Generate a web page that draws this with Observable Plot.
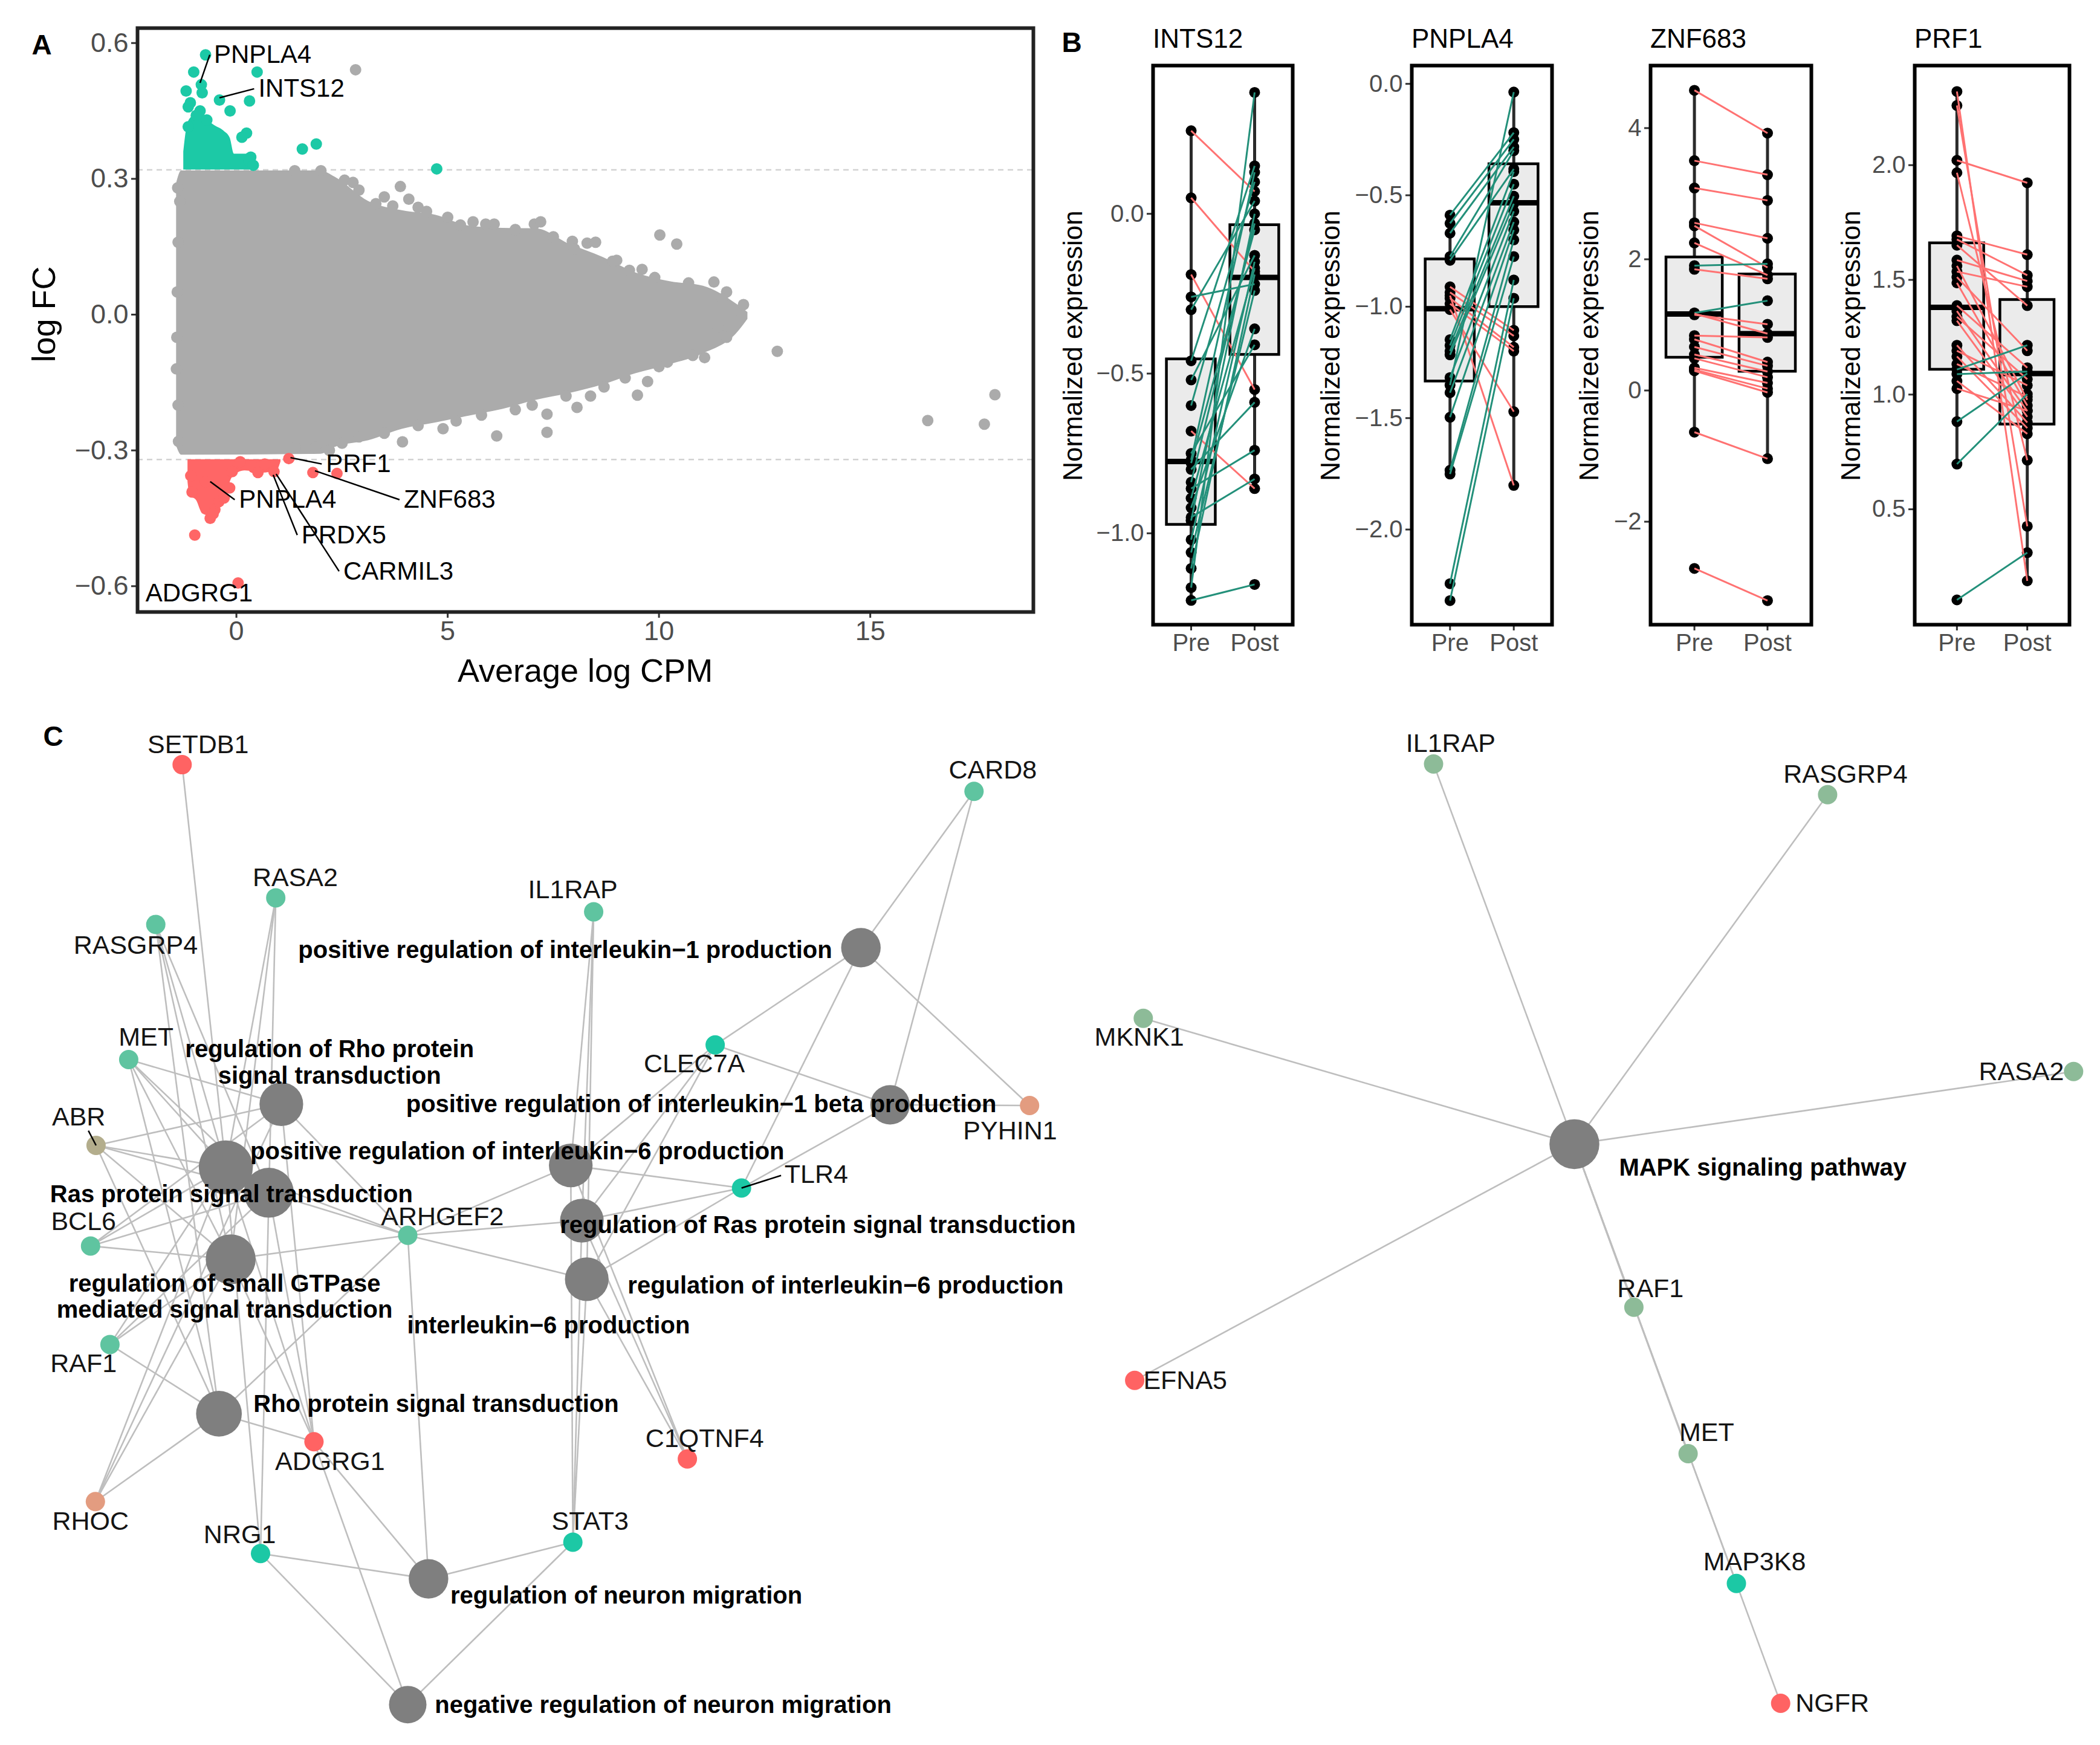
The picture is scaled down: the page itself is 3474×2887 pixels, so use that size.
<!DOCTYPE html>
<html><head><meta charset="utf-8">
<script src="https://cdn.jsdelivr.net/npm/d3@7"></script>
<script src="https://cdn.jsdelivr.net/npm/@observablehq/plot@0.6"></script>
<style>
body{margin:0;background:#fff;}
#fig{position:relative;width:3474px;height:2887px;background:#fff;overflow:hidden;font-family:'Liberation Sans',Arial,Helvetica,sans-serif;}
#fig svg{position:absolute;overflow:visible;}
.t{position:absolute;line-height:1;white-space:nowrap;}
</style></head><body><div id="fig"></div>
<script>
// ---------------- Panel A data (MA plot) ----------------
const fcCut = 0.32;
const cloudX   = [-1.42,-1.3,2.0,2.33,3.13,3.92,4.71,5.5,6.3,7.09,7.88,8.67,9.46,10.26,11.05,11.84,12.1];
const cloudTop = [0.29,0.318,0.318,0.304,0.25,0.23,0.22,0.196,0.191,0.19,0.156,0.127,0.092,0.073,0.063,0.023,0.005];
const cloudBot = [-0.29,-0.31,-0.308,-0.293,-0.278,-0.253,-0.239,-0.224,-0.209,-0.189,-0.174,-0.155,-0.130,-0.110,-0.086,-0.041,-0.01];
const grayX = [2.82,1.38,2.0,2.56,2.76,3.5,3.88,4.08,4.3,5.6,6.1,7.05,7.2,7.95,8.3,8.5,9.0,9.6,10.02,10.42,11.3,11.6,12.0,11.87,11.4,11.08,10.6,10.2,9.73,9.49,8.38,8.06,7.35,7.35,6.16,4.89,3.93,2.5,1.87,1.39,12.8,16.36,17.7,17.95,-1.34,-1.38,-1.41,-1.38,
  2.9,3.3,3.7,4.5,5.0,5.3,5.9,6.6,7.5,8.0,8.9,9.3,9.9,10.7,11.5,2.2,2.9,3.5,4.3,5.2,5.8,6.6,7.0,7.8,8.7,9.2,10.0,10.8,11.6,-1.40,-1.42,-1.39,-1.37];
const grayY = [0.541,0.318,0.318,0.297,0.292,0.26,0.283,0.255,0.237,0.205,0.2,0.2,0.205,0.162,0.158,0.16,0.12,0.10,0.176,0.156,0.072,0.05,0.022,-0.013,-0.028,-0.095,-0.085,-0.105,-0.148,-0.178,-0.18,-0.205,-0.22,-0.26,-0.268,-0.252,-0.281,-0.284,-0.293,-0.293,-0.081,-0.234,-0.242,-0.177,0.25,0.16,-0.05,-0.2,
  0.275,0.245,0.24,0.228,0.215,0.198,0.20,0.188,0.172,0.145,0.118,0.098,0.082,0.07,0.035,-0.30,-0.27,-0.262,-0.245,-0.235,-0.222,-0.21,-0.2,-0.18,-0.16,-0.14,-0.115,-0.09,-0.05,0.05,-0.12,0.28,-0.28];
const upAreaX   = [-1.25,-1.15,-0.96,-0.85,-0.74,-0.55,-0.3,-0.15,-0.05,0.22,0.42];
const upAreaTop = [0.36,0.424,0.445,0.457,0.437,0.42,0.406,0.39,0.355,0.355,0.335];
const upX = [-0.73,-1.01,0.49,-1.19,-0.83,-0.81,-0.40,0.31,-0.15,-1.09,-1.14,-0.86,-1.14,0.24,0.13,1.56,1.89,4.74,0.34,-0.95,-0.7,0.3,0.4];
const upY = [0.574,0.536,0.536,0.494,0.508,0.49,0.474,0.472,0.45,0.468,0.459,0.45,0.415,0.401,0.392,0.366,0.377,0.322,0.348,0.44,0.43,0.34,0.33];
const dnAreaX   = [-1.15,-1.1,-0.95,-0.8,-0.6,-0.4,-0.25,-0.1,0.2,0.6,0.95,1.05];
const dnAreaBot = [-0.37,-0.40,-0.41,-0.44,-0.445,-0.43,-0.40,-0.36,-0.345,-0.35,-0.345,-0.325];
const dnX = [1.24,1.81,2.38,0.09,0.41,0.67,0.89,0.51,-0.985,0.04,-0.51,-0.41,-0.73,-1.08,-1.05,-0.29,-0.16,-0.10,-0.62,-0.55];
const dnY = [-0.318,-0.349,-0.351,-0.325,-0.338,-0.33,-0.347,-0.349,-0.487,-0.593,-0.431,-0.413,-0.369,-0.356,-0.392,-0.405,-0.383,-0.347,-0.45,-0.44];
const aLabText = ["PNPLA4","INTS12","PRF1","ZNF683","PNPLA4","PRDX5","CARMIL3","ADGRG1"];
const aLabX = [-0.53,0.52,2.12,3.96,0.06,1.54,2.53,-2.15];
const aLabY = [0.574,0.499,-0.330,-0.409,-0.409,-0.487,-0.567,-0.615];
const aPtX  = [-0.86,-0.40,1.28,1.86,-0.62,0.87,0.94,null];
const aPtY  = [0.512,0.479,-0.316,-0.345,-0.369,-0.354,-0.352,null];
const aTicksX = [0,5,10,15];
const aTicksY = [-0.6,-0.3,0,0.3,0.6];

// ---------------- Panel B data (paired boxplots) ----------------
const bGenes = ["INTS12","PNPLA4","ZNF683","PRF1"];
const intsPre  = [0.26,0.05,-0.19,-0.68,-0.26,-0.30,-0.46,-0.52,-0.60,-0.75,-0.77,-0.78,-0.80,-0.84,-0.86,-0.89,-0.92,-0.95,-0.96,-1.02,-1.06,-1.11,-1.17,-1.21];
const intsPost = [0.07,-0.18,-0.55,-0.86,-0.22,0.04,0.15,-0.13,0.10,-0.41,0.13,-0.05,-0.59,-0.03,-0.74,-0.17,-0.36,-0.83,0.00,-0.15,-0.24,-0.19,0.38,-1.16];
const pnplaPre  = [-0.911,-0.936,-0.962,-0.987,-1.013,-0.95,-0.589,-0.626,-0.670,-0.775,-0.792,-1.148,-1.174,-1.199,-1.216,-1.318,-1.352,-1.386,-1.496,-1.734,-1.751,-2.243,-2.319];
const pnplaPost = [-1.106,-1.131,-1.182,-1.199,-1.471,-1.802,-0.219,-0.249,-0.283,-0.30,-0.382,-0.394,-0.45,-0.504,-0.538,-0.572,-0.037,-0.62,-0.656,-0.70,-0.775,-0.880,-0.962];
const znfPre  = [4.576,3.503,3.087,2.556,2.510,2.250,1.904,1.847,1.183,1.154,1.17,0.837,0.779,0.664,0.548,0.490,0.346,0.317,0.30,-0.635,-2.712];
const znfPost = [3.924,3.289,2.897,2.320,1.875,1.760,1.93,1.702,1.368,1.010,0.866,0.808,0.433,0.375,0.289,0.202,0.115,0.029,-0.029,-1.039,-3.203];
const prfPre  = [2.321,2.260,2.021,1.967,1.692,1.676,1.651,1.586,1.561,1.536,1.512,1.487,1.388,1.364,1.339,1.322,1.215,1.191,1.166,1.133,1.059,1.026,1.109,0.882,0.697,0.105,1.089];
const prfPost = [0.188,0.426,1.923,0.714,1.610,1.520,1.388,1.495,0.977,1.470,1.191,0.952,1.117,0.928,1.067,0.903,0.878,1.04,0.854,0.99,0.829,0.93,1.215,1.092,1.002,0.311,1.10];
const boxGene = ["INTS12","INTS12","PNPLA4","PNPLA4","ZNF683","ZNF683","PRF1","PRF1"];
const boxTime = ["Pre","Post","Pre","Post","Pre","Post","Pre","Post"];
const boxLo  = [-1.21,-0.861,-1.751,-1.802,-0.635,-1.039,0.697,0.188];
const boxQ1  = [-0.973,-0.441,-1.335,-1.001,0.502,0.289,1.109,0.870];
const boxMed = [-0.775,-0.199,-1.009,-0.534,1.166,0.866,1.380,1.092];
const boxQ3  = [-0.455,-0.035,-0.787,-0.360,2.031,1.771,1.660,1.413];
const boxHi  = [0.259,0.383,-0.589,-0.037,4.576,3.924,2.321,1.923];
const bTicks = [[0,-0.5,-1],[0,-0.5,-1,-1.5,-2],[4,2,0,-2],[2,1.5,1,0.5]];
const timeLabels = ["Pre","Post"];

// ---------------- Panel C data (gene-concept networks, layout units) ----------------
const cGene   = ["SETDB1","CARD8","RASA2","IL1RAP","RASGRP4","MET","CLEC7A","PYHIN1","ABR","TLR4","BCL6","ARHGEF2","RAF1","ADGRG1","C1QTNF4","RHOC","NRG1","STAT3"];
const cGeneX  = [300.8,1610.8,455.7,981.6,257.2,212.4,1182.6,1702.7,158.4,1226.2,149.3,674,181.4,518.9,1136.6,157.3,430.5,947.2];
const cGeneY  = [1264.6,1308.7,1484.9,1508.1,1529,1752.5,1728.3,1828.5,1894.5,1965,2060.9,2043.2,2223.9,2384.7,2413.3,2483.8,2569.7,2551];
const cGeneFC = ["dn","up2","up2","up2","up2","up2","up","dn2","mid","up","up2","up2","up2","dn","dn","dn2","up","up"];
const cGeneLabX = [327.2,1641.8,487.9,947.2,223.9,241.1,1148.1,1670.5,129.7,1349.9,137.7,731.3,137.7,545.3,1165.3,149.3,396.1,975.8];
const cGeneLabY = [1231.6,1273.4,1451.9,1471.7,1564.2,1716.1,1760.2,1870.4,1848.2,1943.1,2021.2,2012.3,2255.9,2417.7,2380.2,2516.8,2538.9,2516.8];
const cTermKey = ["IL1","RhoReg","IL1b","IL6pos","Ras","RasReg","IL6","GTP","IL6reg","Rho","NMreg","NMneg"];
const cTermLabel = ["positive regulation of interleukin−1 production","regulation of Rho protein\nsignal transduction","positive regulation of interleukin−1 beta production","positive regulation of interleukin−6 production","Ras protein signal transduction","regulation of Ras protein signal transduction","interleukin−6 production","regulation of small GTPase\nmediated signal transduction","regulation of interleukin−6 production","Rho protein signal transduction","regulation of neuron migration","negative regulation of neuron migration"];
const cTermX = [1423.7,464.9,1471.9,943.7,373.1,444.3,962.1,381.1,970.2,361.7,708.4,674];
const cTermY = [1567.4,1826.3,1827.4,1927.6,1930.9,1972.8,2019,2082.9,2115.9,2338.4,2611.6,2819.7];
const cTermLabX = [934.5,544.7,1159.6,855.3,382.3,1352.5,906.9,371.1,1398.4,721,1035.6,1096.5];
const cTermLabY = [1570.7,1756.7,1825.3,1903.4,1975,2025.6,2191.9,2144.5,2125.8,2321.9,2639,2819.7];
const cEdgeTerm  = ["Ras","RasReg","GTP","RhoReg","Rho","IL6pos","IL6","IL6reg","IL1","IL1b","NMreg","NMneg"];
const cEdgeGenes = [
  ["SETDB1","RASA2","RASGRP4","MET","ABR","BCL6","RAF1","RHOC","ARHGEF2","ADGRG1","NRG1"],
  ["RASA2","RASGRP4","MET","ABR","BCL6","RAF1","ARHGEF2","ADGRG1","NRG1"],
  ["RASA2","RASGRP4","MET","ABR","BCL6","RAF1","RHOC","ARHGEF2","ADGRG1"],
  ["MET","ABR","BCL6","RHOC","ARHGEF2","ADGRG1"],
  ["MET","ABR","RAF1","RHOC","ARHGEF2","ADGRG1","RASGRP4"],
  ["IL1RAP","CLEC7A","TLR4","STAT3","C1QTNF4","ARHGEF2"],
  ["IL1RAP","CLEC7A","TLR4","STAT3","C1QTNF4","ARHGEF2"],
  ["IL1RAP","CLEC7A","TLR4","STAT3","C1QTNF4","ARHGEF2"],
  ["CARD8","CLEC7A","TLR4","PYHIN1"],
  ["CARD8","CLEC7A","TLR4","PYHIN1"],
  ["NRG1","STAT3","ARHGEF2","ADGRG1"],
  ["NRG1","STAT3","ADGRG1"]
];
const cLeadGene = ["ABR","TLR4"];
const cLeadX = [145.7,1291.6];
const cLeadY = [1870.1,1944.2];
const rGene   = ["IL1RAP","RASGRP4","MKNK1","RASA2","RAF1","EFNA5","MET","MAP3K8","NGFR"];
const rGeneX  = [2371,3022.9,1890.8,3429.8,2702.4,1876.6,2792.1,2872,2945.2];
const rGeneY  = [1263.5,1314.2,1684.2,1772.3,2162.2,2283.3,2404.5,2619.2,2817.5];
const rGeneFC = ["up3","up3","up3","up3","up3","dn","up3","up","dn"];
const rGeneLabX = [2399.4,3052.4,1884.2,3343.4,2729.8,1960.2,2822.8,2902,3030.6];
const rGeneLabY = [1229.4,1281.1,1716.2,1772.3,2131.4,2283.3,2369.3,2584,2817.5];
const rTerm = ["MAPK signaling pathway"];
const rTermX = [2604], rTermY = [1892.4], rTermLabX = [2915.7], rTermLabY = [1931];

// ---------------- styles ----------------
const FONT = "'Liberation Sans', Arial, Helvetica, sans-serif";
const GRAY = "#ABABAB", TEAL = "#1CC9A6", RED = "#FF6666";
const TEAL_LINE = "#23907A", RED_LINE = "#FF7272";
const fcColor = {up:"#1CC8A5", up2:"#5FC4A0", up3:"#8DBB98", mid:"#B3AD8C", dn2:"#E39C80", dn:"#FF6363"};
const fig = document.getElementById("fig");
const baseStyle = {fontFamily: FONT, background: "transparent", overflow: "visible"};

function put(svg, left, top){ svg.style.left = left + "px"; svg.style.top = top + "px"; fig.appendChild(svg); }
function txt(s, cx, cy, size, o = {}) {
  const d = document.createElement("div");
  d.className = "t";
  d.textContent = s;
  const tx = o.start ? "0" : "-50%";
  d.style.left = cx + "px"; d.style.top = cy + "px";
  d.style.fontSize = size + "px";
  d.style.fontWeight = o.bold ? "bold" : "normal";
  d.style.color = o.color || "#000";
  d.style.transform = `translate(${tx},-50%)` + (o.rotate ? " rotate(-90deg)" : "");
  fig.appendChild(d);
}

// ---------------- Panel A ----------------
{
  const cloud = cloudX.map((x, i) => ({x, lo: cloudBot[i], hi: cloudTop[i]}));
  const grays = grayX.map((x, i) => ({x, y: grayY[i]}));
  const upArea = upAreaX.map((x, i) => ({x, hi: upAreaTop[i]}));
  const ups = upX.map((x, i) => ({x, y: upY[i]}));
  const dnArea = dnAreaX.map((x, i) => ({x, lo: dnAreaBot[i]}));
  const dns = dnX.map((x, i) => ({x, y: dnY[i]}));
  const labs = aLabText.map((t, i) => ({t, lx: aLabX[i], ly: aLabY[i], px: aPtX[i], py: aPtY[i]}));
  const W = 1740, H = 1160, L = 227, R = 1709, T = 46, B = 1012;
  const svg = Plot.plot({
    width: W, height: H, marginLeft: L, marginRight: W - R, marginTop: T, marginBottom: H - B,
    x: {domain: [-2.34, 18.86]}, y: {domain: [-0.657, 0.633]},
    style: baseStyle,
    marks: [
      Plot.ruleY([fcCut, -fcCut], {stroke: "#d2d2d2", strokeWidth: 2.5, strokeDasharray: "9,7"}),
      Plot.areaY(cloud, {x: "x", y1: "lo", y2: "hi", fill: GRAY, curve: "monotone-x"}),
      Plot.dot(grays, {x: "x", y: "y", r: 9.5, fill: GRAY}),
      Plot.areaY(upArea, {x: "x", y1: () => fcCut, y2: "hi", fill: TEAL, curve: "monotone-x"}),
      Plot.dot(ups, {x: "x", y: "y", r: 9.5, fill: TEAL}),
      Plot.areaY(dnArea, {x: "x", y1: () => -fcCut, y2: "lo", fill: RED, curve: "monotone-x"}),
      Plot.dot(dns, {x: "x", y: "y", r: 9.5, fill: RED}),
      Plot.link(labs.filter(d => d.px != null), {x1: d => d.lx - 0.1, y1: "ly", x2: "px", y2: "py", stroke: "#000", strokeWidth: 2.5}),
      Plot.text(labs, {x: "lx", y: "ly", text: "t", textAnchor: "start", fontSize: 42, fill: "#000"}),
      Plot.axisY({ticks: aTicksY, tickFormat: d3.format(".1f"), tickSize: 10, tickPadding: 5, fontSize: 45, fill: "#4d4d4d", stroke: "#333", strokeWidth: 3, label: null}),
      Plot.axisX({ticks: aTicksX, tickFormat: d3.format("d"), tickSize: 10, tickPadding: 5, fontSize: 45, fill: "#4d4d4d", stroke: "#333", strokeWidth: 3, label: null}),
      Plot.frame({stroke: "#222", strokeWidth: 6})
    ]
  });
  put(svg, 0, 0);
  txt("log FC", 72, 520, 54, {rotate: true});
  txt("Average log CPM", 968, 1109, 54);
  txt("A", 69, 74, 46, {bold: true});
}

// ---------------- Panel B ----------------
{
  const series = {INTS12: [intsPre, intsPost], PNPLA4: [pnplaPre, pnplaPost], ZNF683: [znfPre, znfPost], PRF1: [prfPre, prfPost]};
  const frames = {INTS12: [1907, 2138], PNPLA4: [2335, 2567], ZNF683: [2730, 2996], PRF1: [3167, 3423]};
  const yDomains = {INTS12: [-1.286, 0.464], PNPLA4: [-2.427, 0.082], ZNF683: [-3.57, 4.953], PRF1: [-0.003, 2.434]};
  const fmts = {INTS12: d3.format(".1f"), PNPLA4: d3.format(".1f"), ZNF683: d3.format("d"), PRF1: d3.format(".1f")};
  const yTitleX = {INTS12: 1775, PNPLA4: 2201, ZNF683: 2629, PRF1: 3062};
  const pos = t => timeLabels.indexOf(t) + 1;
  const BW = 0.385;
  bGenes.forEach((g, gi) => {
    const [pre, post] = series[g];
    const pairs = pre.map((v, i) => ({pre: v, post: post[i]}));
    const boxes = boxGene.map((gg, i) => ({gene: gg, pos: pos(boxTime[i]), lo: boxLo[i], q1: boxQ1[i], med: boxMed[i], q3: boxQ3[i], hi: boxHi[i]})).filter(d => d.gene === g);
    const [fl, fr] = frames[g];
    const mL = 110, mR = 12, H = 1120, T = 108, B = 1033;
    const svg = Plot.plot({
      width: (fr - fl) + mL + mR, height: H, marginLeft: mL, marginRight: mR, marginTop: T, marginBottom: H - B,
      x: {domain: [0.4, 2.6]}, y: {domain: yDomains[g]},
      style: baseStyle,
      marks: [
        Plot.ruleX(boxes, {x: "pos", y1: "lo", y2: "hi", stroke: "#2a2a2a", strokeWidth: 5}),
        Plot.rect(boxes, {x1: d => d.pos - BW, x2: d => d.pos + BW, y1: "q1", y2: "q3", fill: "#EBEBEB", stroke: "#000", strokeWidth: 4.5}),
        Plot.ruleY(boxes, {y: "med", x1: d => d.pos - BW, x2: d => d.pos + BW, stroke: "#000", strokeWidth: 9}),
        Plot.dot(pairs, {x: () => pos("Pre"), y: "pre", r: 9, fill: "#000"}),
        Plot.dot(pairs, {x: () => pos("Post"), y: "post", r: 9, fill: "#000"}),
        Plot.link(pairs, {x1: () => pos("Pre"), y1: "pre", x2: () => pos("Post"), y2: "post", stroke: d => d.post > d.pre ? TEAL_LINE : RED_LINE, strokeWidth: 3}),
        Plot.axisY({ticks: bTicks[gi], tickFormat: fmts[g], tickSize: 10, tickPadding: 5, fontSize: 40, fill: "#4d4d4d", stroke: "#333", strokeWidth: 3, label: null}),
        Plot.axisX({ticks: [1, 2], tickFormat: d => timeLabels[d - 1], tickSize: 10, tickPadding: 5, fontSize: 40, fill: "#4d4d4d", stroke: "#333", strokeWidth: 3, label: null}),
        Plot.frame({stroke: "#000", strokeWidth: 6})
      ]
    });
    put(svg, fl - mL, 0);
    txt(g, fl, 64, 44, {start: true});
    txt("Normalized expression", yTitleX[g], 572, 44, {rotate: true});
  });
  txt("B", 1773, 70, 46, {bold: true});
}

// ---------------- Panel C ----------------
{
  const genes = cGene.map((n, i) => ({name: n, x: cGeneX[i], y: cGeneY[i], fc: cGeneFC[i], lx: cGeneLabX[i], ly: cGeneLabY[i]}));
  const byGene = new Map(genes.map(d => [d.name, d]));
  const terms = cTermKey.map((k, i) => ({key: k, label: cTermLabel[i], x: cTermX[i], y: cTermY[i], lx: cTermLabX[i], ly: cTermLabY[i]}));
  const byTerm = new Map(terms.map(d => [d.key, d]));
  const edges = [];
  cEdgeTerm.forEach((k, i) => {
    byTerm.get(k).count = cEdgeGenes[i].length;
    cEdgeGenes[i].forEach(g => { const a = byGene.get(g), b = byTerm.get(k); edges.push({x1: a.x, y1: a.y, x2: b.x, y2: b.y}); });
  });
  const rGenes = rGene.map((n, i) => ({name: n, x: rGeneX[i], y: rGeneY[i], fc: rGeneFC[i], lx: rGeneLabX[i], ly: rGeneLabY[i]}));
  const rTerms = rTerm.map((n, i) => ({label: n, x: rTermX[i], y: rTermY[i], lx: rTermLabX[i], ly: rTermLabY[i], count: rGene.length}));
  rGenes.forEach(a => edges.push({x1: a.x, y1: a.y, x2: rTerms[0].x, y2: rTerms[0].y}));
  const leads = cLeadGene.map((g, i) => ({x1: cLeadX[i], y1: cLeadY[i], x2: byGene.get(g).x, y2: byGene.get(g).y}));
  const allGenes = genes.concat(rGenes), allTerms = terms.concat(rTerms);
  const svg = Plot.plot({
    width: 3474, height: 1727, margin: 0,
    x: {domain: [0, 3474], axis: null}, y: {domain: [1160, 2887], reverse: true, axis: null},
    r: {type: "linear", domain: [3, 11], range: [31, 44.7]},
    style: baseStyle,
    marks: [
      Plot.link(edges, {x1: "x1", y1: "y1", x2: "x2", y2: "y2", stroke: "#BEBEBE", strokeWidth: 2.6}),
      Plot.dot(allTerms, {x: "x", y: "y", r: "count", fill: "#7F7F7F"}),
      Plot.dot(allGenes, {x: "x", y: "y", r: 16, fill: d => fcColor[d.fc]}),
      Plot.link(leads, {x1: "x1", y1: "y1", x2: "x2", y2: "y2", stroke: "#000", strokeWidth: 2.5}),
      Plot.text(allGenes, {x: "lx", y: "ly", text: "name", fontSize: 43, fill: "#141414"}),
      Plot.text(allTerms, {x: "lx", y: "ly", text: "label", fontSize: 40, fontWeight: "bold", lineHeight: 1.08, fill: "#000"})
    ]
  });
  put(svg, 0, 1160);
  txt("C", 88, 1218, 46, {bold: true});
}
</script></body></html>
